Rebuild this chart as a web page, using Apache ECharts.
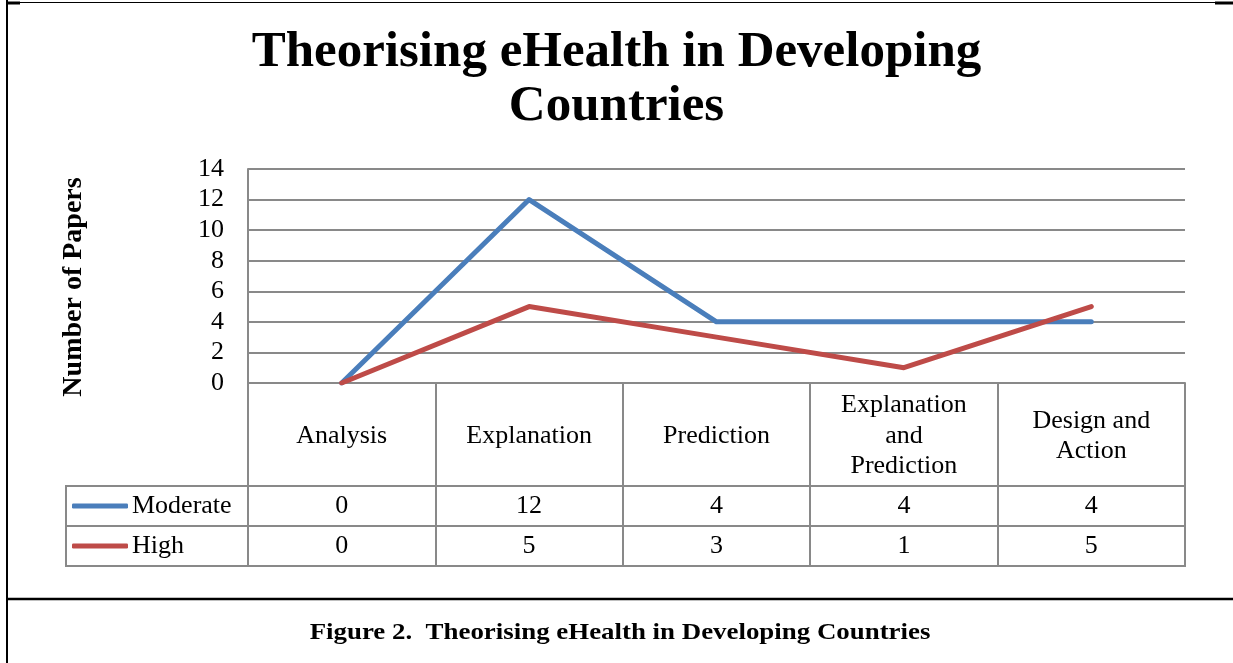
<!DOCTYPE html>
<html>
<head>
<meta charset="utf-8">
<script src="https://cdn.jsdelivr.net/npm/echarts@6/dist/echarts.min.js"></script>
<style>
html,body{margin:0;padding:0;background:#fff;}
#chart{width:1233px;height:663px;}
</style>
</head>
<body>
<div id="chart"></div>
<script>
const categories = ['Analysis', 'Explanation', 'Prediction', 'Explanation and Prediction', 'Design and Action'];
const categoryLabels = ['Analysis', 'Explanation', 'Prediction', 'Explanation\nand\nPrediction', 'Design and\nAction'];
const moderate = [0, 12, 4, 4, 4];
const high = [0, 5, 3, 1, 5];
const yTicks = [0, 2, 4, 6, 8, 10, 12, 14];
const seriesNames = ['Moderate', 'High'];

const FONT = '"Liberation Serif", "Times New Roman", serif';
const GRAY = '#898989';
const chart = echarts.init(document.getElementById('chart'), null, {renderer: 'canvas'});

const option = {
  backgroundColor: '#ffffff',
  animation: false,
  title: {
    text: 'Theorising eHealth in Developing\nCountries',
    left: 'center',
    top: 26,
    padding: 0,
    textStyle: {fontFamily: FONT, fontWeight: 'bold', fontSize: 51, lineHeight: 54, color: '#000', align: 'center'}
  },
  legend: {
    orient: 'vertical',
    left: 72,
    top: 493,
    padding: 0,
    itemGap: 14,
    itemWidth: 56,
    itemHeight: 5,
    icon: 'roundRect',
    data: seriesNames,
    textStyle: {fontFamily: FONT, fontSize: 26, lineHeight: 26, color: '#000', padding: [0, 0, 0, -1]}
  },
  grid: [
    {left: 248, right: 48, top: 169, height: 214, containLabel: false},
    {left: 66, right: 48, top: 486, height: 80, show: true, borderColor: GRAY, borderWidth: 2, backgroundColor: 'transparent'}
  ],
  xAxis: [
    {
      gridIndex: 0, type: 'category', data: categories, boundaryGap: true,
      axisLine: {show: true, lineStyle: {color: GRAY, width: 2}},
      axisTick: {show: true, length: 183, inside: false, lineStyle: {color: GRAY, width: 2}},
      splitLine: {show: false},
      axisLabel: {
        interval: 0, margin: 53, verticalAlign: 'middle', fontFamily: FONT, fontSize: 26, lineHeight: 30.5, color: '#000',
        formatter: (v, i) => categoryLabels[i]
      }
    },
    {
      gridIndex: 0, type: 'category', data: categories, position: 'bottom', boundaryGap: true,
      axisLine: {show: false}, axisTick: {show: false}, splitLine: {show: false},
      axisLabel: {interval: 0, margin: 123, verticalAlign: 'middle', fontFamily: FONT, fontSize: 26, color: '#000',
        formatter: (v, i) => String(moderate[i])}
    },
    {
      gridIndex: 0, type: 'category', data: categories, position: 'bottom', boundaryGap: true,
      axisLine: {show: false}, axisTick: {show: false}, splitLine: {show: false},
      axisLabel: {interval: 0, margin: 163, verticalAlign: 'middle', fontFamily: FONT, fontSize: 26, color: '#000',
        formatter: (v, i) => String(high[i])}
    },
    {gridIndex: 1, type: 'value', show: false}
  ],
  yAxis: [
    {
      gridIndex: 0, type: 'value', min: yTicks[0], max: yTicks[yTicks.length - 1], interval: yTicks[1] - yTicks[0],
      name: 'Number of Papers', nameLocation: 'middle', nameGap: 160, nameRotate: 90,
      nameTextStyle: {fontFamily: FONT, fontWeight: 'bold', fontSize: 28, color: '#000', padding: [0, 22, 0, 0]},
      axisLine: {show: true, lineStyle: {color: GRAY, width: 2}},
      axisTick: {show: false},
      splitLine: {show: true, lineStyle: {color: GRAY, width: 2}},
      axisLabel: {margin: 24, fontFamily: FONT, fontSize: 26, color: '#000'}
    },
    {
      gridIndex: 1, type: 'category', data: seriesNames, inverse: true, boundaryGap: true,
      axisLine: {show: false}, axisTick: {show: false}, axisLabel: {show: false},
      splitLine: {show: true, lineStyle: {color: GRAY, width: 2}}
    }
  ],
  series: [
    {name: seriesNames[0], type: 'line', xAxisIndex: 0, yAxisIndex: 0, data: moderate, symbol: 'none',
      lineStyle: {color: '#4A7EBB', width: 5, cap: 'round', join: 'round'}, itemStyle: {color: '#4A7EBB'}},
    {name: seriesNames[1], type: 'line', xAxisIndex: 0, yAxisIndex: 0, data: high, symbol: 'none',
      lineStyle: {color: '#BE4B48', width: 5, cap: 'round', join: 'round'}, itemStyle: {color: '#BE4B48'}}
  ],
  graphic: [
    {type: 'line', shape: {x1: 7, y1: 0, x2: 7, y2: 663}, style: {stroke: '#000', lineWidth: 2}},
    {type: 'line', shape: {x1: 7, y1: 2.5, x2: 1215, y2: 2.5}, style: {stroke: '#000', lineWidth: 1}},
    {type: 'line', shape: {x1: 6, y1: 3, x2: 20, y2: 3}, style: {stroke: '#000', lineWidth: 3}},
    {type: 'line', shape: {x1: 1215, y1: 3, x2: 1233, y2: 3}, style: {stroke: '#000', lineWidth: 3}},
    {type: 'line', shape: {x1: 7, y1: 599, x2: 1233, y2: 599}, style: {stroke: '#000', lineWidth: 2.5}},
    {type: 'text', x: 620, y: 633, scaleX: 1.12,
      style: {text: 'Figure 2.  Theorising eHealth in Developing Countries', fontFamily: FONT, fontWeight: 'bold',
        fontSize: 24, fill: '#000', align: 'center', verticalAlign: 'middle'}}
  ]
};
chart.setOption(option);
</script>
</body>
</html>
